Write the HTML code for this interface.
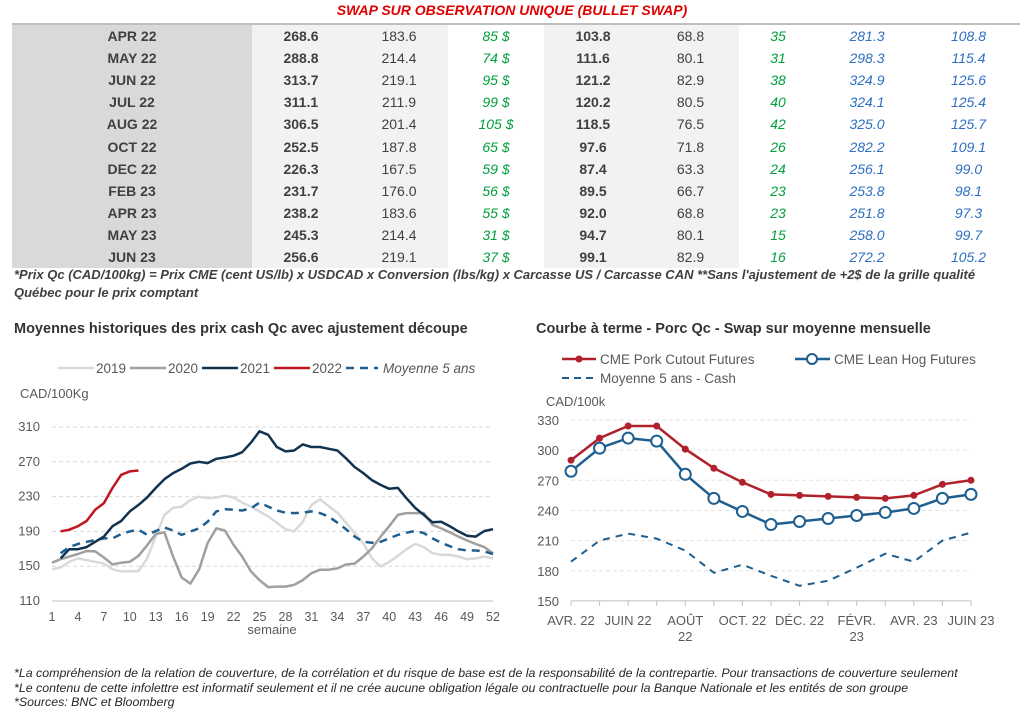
<!DOCTYPE html>
<html><head><meta charset="utf-8">
<style>
body{margin:0;width:1024px;height:722px;background:#fff;font-family:"Liberation Sans",sans-serif;color:#404040;position:relative;overflow:hidden}
.abs{position:absolute;white-space:nowrap}
table{position:absolute;left:12px;top:23px;width:1008px;border-collapse:collapse;border-top:2px solid #bfbfbf;font-size:14px}
td{height:22.1px;padding:0;text-align:center;font-weight:bold;color:#404040}
td.c1{background:#d9d9d9;width:240px}
td.l{background:#f2f2f2}
td.n{font-weight:normal}
td.g{color:#00a03c;font-style:italic;font-weight:normal}
td.b{color:#2e6fc2;font-style:italic;font-weight:normal}
</style></head><body>
<div class="abs" style="left:0;width:1024px;text-align:center;top:2px;color:#e00000;font-weight:bold;font-style:italic;font-size:14px">SWAP SUR OBSERVATION UNIQUE (BULLET SWAP)</div>
<table>
<colgroup><col style="width:240px"><col style="width:98px"><col style="width:98px"><col style="width:96px"><col style="width:98px"><col style="width:97px"><col style="width:78px"><col style="width:100px"><col style="width:103px"></colgroup>
<tbody id="tb"></tbody></table>
<div class="abs" style="left:14px;top:266px;font-size:13px;font-weight:bold;font-style:italic;line-height:18px;color:#404040">*Prix Qc (CAD/100kg) = Prix CME (cent US/lb) x USDCAD x Conversion (lbs/kg) x Carcasse US / Carcasse CAN **Sans l'ajustement de +2$ de la grille qualité<br>Québec pour le prix comptant</div>
<div class="abs" style="left:14px;top:321px;font-size:14.5px;font-weight:bold;color:#333">Moyennes historiques des prix cash Qc avec ajustement découpe</div>
<div class="abs" style="left:536px;top:321px;font-size:14.5px;font-weight:bold;color:#333">Courbe à terme - Porc Qc - Swap sur moyenne mensuelle</div>
<svg class="abs" style="left:0;top:340px" width="1024" height="320" id="sv" font-family="Liberation Sans, sans-serif" font-size="12.5" fill="#595959"></svg>
<div class="abs" style="left:14px;top:666px;font-size:12.4px;font-style:italic;line-height:14.5px;color:#262626">*La compréhension de la relation de couverture, de la corrélation et du risque de base est de la responsabilité de la contrepartie. Pour transactions de couverture seulement<br>*Le contenu de cette infolettre est informatif seulement et il ne crée aucune obligation légale ou contractuelle pour la Banque Nationale et les entités de son groupe<br>*Sources: BNC et Bloomberg</div>
<script>
var rows=[["APR 22","268.6","183.6","85 $","103.8","68.8","35","281.3","108.8"],["MAY 22","288.8","214.4","74 $","111.6","80.1","31","298.3","115.4"],["JUN 22","313.7","219.1","95 $","121.2","82.9","38","324.9","125.6"],["JUL 22","311.1","211.9","99 $","120.2","80.5","40","324.1","125.4"],["AUG 22","306.5","201.4","105 $","118.5","76.5","42","325.0","125.7"],["OCT 22","252.5","187.8","65 $","97.6","71.8","26","282.2","109.1"],["DEC 22","226.3","167.5","59 $","87.4","63.3","24","256.1","99.0"],["FEB 23","231.7","176.0","56 $","89.5","66.7","23","253.8","98.1"],["APR 23","238.2","183.6","55 $","92.0","68.8","23","251.8","97.3"],["MAY 23","245.3","214.4","31 $","94.7","80.1","15","258.0","99.7"],["JUN 23","256.6","219.1","37 $","99.1","82.9","16","272.2","105.2"]];
var cls=["c1","l","l n","g","l","l n","g","b","b"],h="";
rows.forEach(function(r){h+="<tr>";r.forEach(function(v,i){h+='<td class="'+cls[i]+'">'+v+"</td>"});h+="</tr>"});
document.getElementById("tb").innerHTML=h;
var s="";
function lx(w){return 52+(w-1)*8.647}function ly(v){return 427-340+(310-v)*0.87}
[110,150,190,230,270,310].forEach(function(v){var y=ly(v);if(v>110)s+='<line x1="52" x2="493" y1="'+y+'" y2="'+y+'" stroke="#d9d9d9" stroke-dasharray="4,3"/>';s+='<text x="40" y="'+(y+4)+'" text-anchor="end" font-size="13">'+v+'</text>'});
s+='<line x1="52" x2="493" y1="'+ly(110)+'" y2="'+ly(110)+'" stroke="#bfbfbf"/>';
for(var w=1;w<=52;w+=3){s+='<text x="'+lx(w)+'" y="'+(ly(110)+20)+'" text-anchor="middle">'+w+'</text>'}
s+='<text x="272" y="'+(ly(110)+33)+'" text-anchor="middle" font-size="13">semaine</text><text x="20" y="58" font-size="13">CAD/100Kg</text>';
function pl(arr,start,col,wd,dash){var p=arr.map(function(v,i){return lx(start+i).toFixed(1)+","+ly(v).toFixed(1)}).join(" ");return '<polyline points="'+p+'" fill="none" stroke="'+col+'" stroke-width="'+wd+'"'+(dash?' stroke-dasharray="'+dash+'"':'')+' stroke-linejoin="round"/>'}
var y19=[146.5,148.5,155,159,157,155,153,146.5,144,144,144.5,159,184,209,217,218.5,226,230,228,229,231,229,223,218.5,213,207,200,192.5,190,201,220.5,227,219,211.5,200,188,176.5,159,149.5,155,162,169.5,175.5,172,165,163,163,161,158,159,161,159];
var y20=[154,158,161,164,167.5,167,160,152,154,155,162,174,187,189,161,137,130,146,176.5,193.5,191,174.5,161,144,134,126,126.5,126.5,128.5,134,142,146,146,147.5,152,153,161,170.5,184,196,209,211,211,211,197.5,193.5,189,184,179.5,175.5,172,165];
var y21=[159,169.5,169.5,172,178,184,196,202,213,220.5,229,240,250,257,262,268,270,268.5,273.5,275,277,281,292,305,301,287,282,283,290,287,287,285,283,274,264,257,249,243.5,239,240,228,217,209,200.5,201,196,190,185,184,190.5,192.5];
var y22=[190,192,196,202,215,222.5,240,255,259,260];
var y5=[165,172,175.5,178,180,182,182,187,190,192,186,190.5,194.5,191,186,190,193.5,201,213,215.5,215,214,216.5,223,218.5,214,211.5,211,211.5,213,211,207,200,192.5,184,178,177,178,182,186,188.5,190.5,188,182,177,173,169.5,168,168,167,164];
s+=pl(y19,1,"#d9d9d9",2.5)+pl(y20,1,"#a0a0a0",2.5)+pl(y5,2,"#1f5f8f",2.5,"8,6")+pl(y21,2,"#12334f",2.5)+pl(y22,2,"#c0161f",2.5);
var lg=[["2019","#d9d9d9"],["2020","#a0a0a0"],["2021","#12334f"],["2022","#c0161f"]];
var lxs=[58,130,202,274];
lg.forEach(function(g,i){s+='<line x1="'+lxs[i]+'" x2="'+(lxs[i]+36)+'" y1="28" y2="28" stroke="'+g[1]+'" stroke-width="2.5"/><text x="'+(lxs[i]+38)+'" y="33" font-size="13.5">'+g[0]+'</text>'});
s+='<line x1="346" x2="378" y1="28" y2="28" stroke="#1f5f8f" stroke-width="2.5" stroke-dasharray="8,6"/><text x="383" y="33" font-style="italic" font-size="13.5">Moyenne 5 ans</text>';
function rx(i){return 571+i*28.57}function ry(v){return 420-340+(330-v)*1.005}
[150,180,210,240,270,300,330].forEach(function(v){var y=ry(v);if(v>150)s+='<line x1="571" x2="971" y1="'+y+'" y2="'+y+'" stroke="#e3e3e3" stroke-dasharray="4,3"/>';s+='<text x="559" y="'+(y+5)+'" text-anchor="end" font-size="13">'+v+'</text>'});
s+='<line x1="571" x2="971" y1="'+ry(150)+'" y2="'+ry(150)+'" stroke="#bfbfbf"/>';
for(var i=0;i<15;i++)s+='<line x1="'+rx(i)+'" x2="'+rx(i)+'" y1="'+ry(150)+'" y2="'+(ry(150)+5)+'" stroke="#bfbfbf"/>';
var xl=[[0,"AVR. 22"],[2,"JUIN 22"],[4,"AOÛT","22"],[6,"OCT. 22"],[8,"DÉC. 22"],[10,"FÉVR.","23"],[12,"AVR. 23"],[14,"JUIN 23"]];
xl.forEach(function(a){s+='<text x="'+rx(a[0])+'" y="'+(ry(150)+24)+'" text-anchor="middle" font-size="13">'+a[1]+'</text>';if(a[2])s+='<text x="'+rx(a[0])+'" y="'+(ry(150)+40)+'" text-anchor="middle" font-size="13">'+a[2]+'</text>'});
s+='<text x="546" y="66" font-size="13">CAD/100k</text>';
var rr=[290,312,324,324,301,282,268,256,255,254,253,252,255,266,270];
var bb=[279,302,312,309,276,252,239,226,229,232,235,238,242,252,256];
var dd=[189,210,217,212,200,178,186,175,165,170,183,197,189,210,218];
function rp(a){return a.map(function(v,i){return rx(i).toFixed(1)+","+ry(v).toFixed(1)}).join(" ")}
s+='<polyline points="'+rp(dd)+'" fill="none" stroke="#1f5f8f" stroke-width="2" stroke-dasharray="7,6"/>';
s+='<polyline points="'+rp(rr)+'" fill="none" stroke="#b0212b" stroke-width="2.5"/>';
rr.forEach(function(v,i){s+='<circle cx="'+rx(i)+'" cy="'+ry(v)+'" r="3.5" fill="#b0212b"/>'});
s+='<polyline points="'+rp(bb)+'" fill="none" stroke="#1f5f8f" stroke-width="2.5"/>';
bb.forEach(function(v,i){s+='<circle cx="'+rx(i)+'" cy="'+ry(v)+'" r="5.5" fill="#fff" stroke="#1f5f8f" stroke-width="2"/>'});
s+='<line x1="562" x2="596" y1="19" y2="19" stroke="#b0212b" stroke-width="2.5"/><circle cx="579" cy="19" r="3.5" fill="#b0212b"/><text x="600" y="24" font-size="13.5">CME Pork Cutout Futures</text>';
s+='<line x1="795" x2="830" y1="19" y2="19" stroke="#1f5f8f" stroke-width="2.5"/><circle cx="812" cy="19" r="5" fill="#fff" stroke="#1f5f8f" stroke-width="2"/><text x="834" y="24" font-size="13.5">CME Lean Hog Futures</text>';
s+='<line x1="562" x2="598" y1="38" y2="38" stroke="#1f5f8f" stroke-width="2" stroke-dasharray="7,5"/><text x="600" y="43" font-size="13.5">Moyenne 5 ans - Cash</text>';
document.getElementById("sv").innerHTML=s;
</script>
</body></html>
